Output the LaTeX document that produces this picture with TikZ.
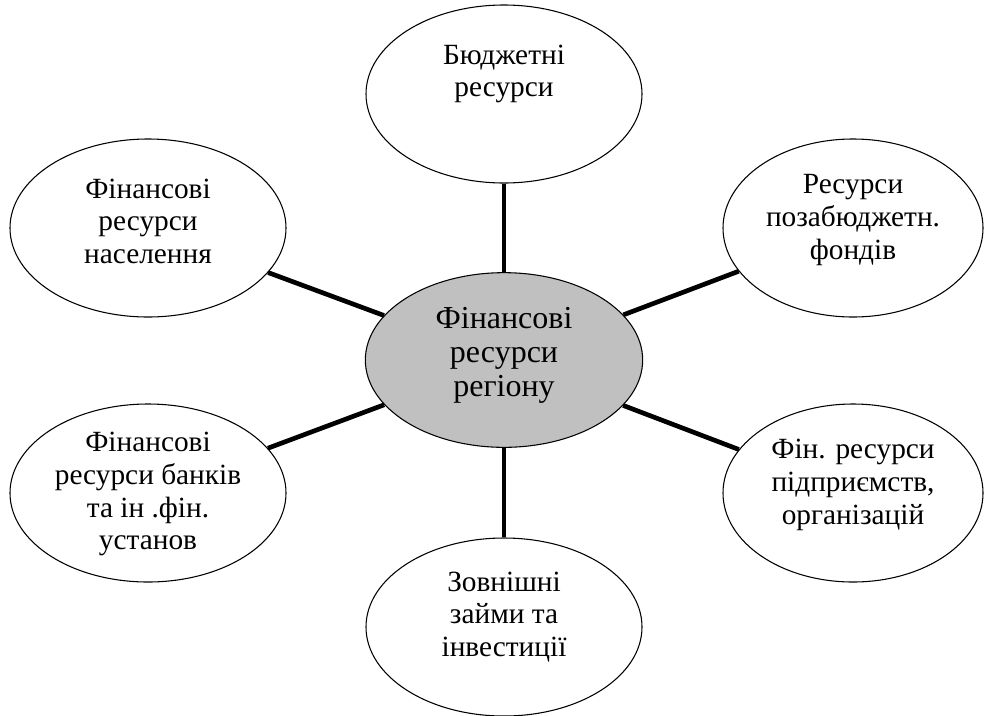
\documentclass[tikz,border=0pt]{standalone}
\usepackage{fontspec}
\setmainfont{Liberation Serif}
\usetikzlibrary{shapes.geometric}
\definecolor{hubgray}{RGB}{192,192,192}

\begin{document}
\begin{tikzpicture}[x=0.75pt,y=-0.75pt,
  bubble/.style={ellipse,draw,line width=0.8pt,fill=white,inner sep=0pt,
    minimum width=207pt,minimum height=133.5pt},
  side/.style={bubble,minimum width=195pt},
  hub/.style={bubble,fill=hubgray,minimum width=208pt,minimum height=131pt},
  txt/.style={align=center,inner sep=0pt,font=\fontsize{22}{24.5}\selectfont},
  hubtxt/.style={txt,font=\fontsize{24}{25.5}\selectfont},
  link/.style={line width=3.5pt}]
\useasboundingbox (0,0) rectangle (984,715);

% the region in the middle
\node[hub] (region) at (504,360) {};
\node[hubtxt] (region-txt) at ([yshift=3.5pt]region.center) {Фінансові\\ресурси\\регіону};

% sources round it
\node[bubble] (budget) at (504,94) {};
\node[side] (funds) at (853,228) {};
\node[side] (firms) at (853,493) {};
\node[bubble] (loans) at (504,627) {};
\node[bubble] (banks) at (148,493) {};
\node[bubble] (people) at (148,228) {};

\node[txt] (budget-txt) at ([yshift=15pt]budget.center) {Бюджетні\\ресурси};
\node[txt] (funds-txt) at ([yshift=6pt]funds.center) {Ресурси\\позабюджетн.\\фондів};
\node[txt] (firms-txt) at ([yshift=6pt]firms.center) {Фін. ресурси\\підприємств,\\організацій};
\node[txt] (loans-txt) at ([yshift=7.5pt]loans.center) {Зовнішні\\займи та\\інвестиції};
\node[txt] (banks-txt) at ([yshift=-1pt]banks.center) {Фінансові\\ресурси банків\\та ін .фін.\\установ};
\node[txt] (people-txt) at ([yshift=5pt]people.center) {Фінансові\\ресурси\\населення};

% spokes
\foreach \n in {budget,funds,firms,loans,banks,people}
  \draw[link] (region) -- (\n);
\end{tikzpicture}
\end{document}
